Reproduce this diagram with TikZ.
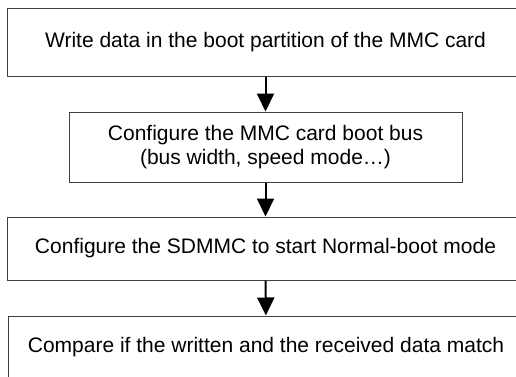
\documentclass[tikz,border=0pt]{standalone}
\usepackage{fontspec}
\setmainfont{Liberation Sans}
\usetikzlibrary{arrows.meta}

\tikzset{
  stepbox/.style={draw=black!75, line width=1pt, inner sep=0pt, align=center,
    font=\fontsize{21}{24}\selectfont},
  flow/.style={-{Triangle[length=18pt,width=17pt]}, line width=2pt}
}

\begin{document}
\begin{tikzpicture}[x=1pt,y=1pt]
  \clip (0,0) rectangle (516,376);

  \node [stepbox, minimum width=517pt, minimum height=68pt] (write) at (265.5,334) {Write data in the boot partition of the MMC card};
  \node [stepbox, minimum width=393pt, minimum height=70pt] (bus) at (265.5,229) {Configure the MMC card boot bus\\(bus width, speed mode\dots)};
  \node [stepbox, minimum width=517pt, minimum height=63pt] (sdmmc) at (265.5,127.5) {Configure the SDMMC to start Normal-boot mode};
  \node [stepbox, minimum width=516pt, minimum height=62pt] (compare) at (266,29) {Compare if the written and the received data match};

  \draw [flow] (write) -- (bus);
  \draw [flow] (bus) -- (sdmmc);
  \draw [flow] (sdmmc) -- (compare);

\end{tikzpicture}
\end{document}
